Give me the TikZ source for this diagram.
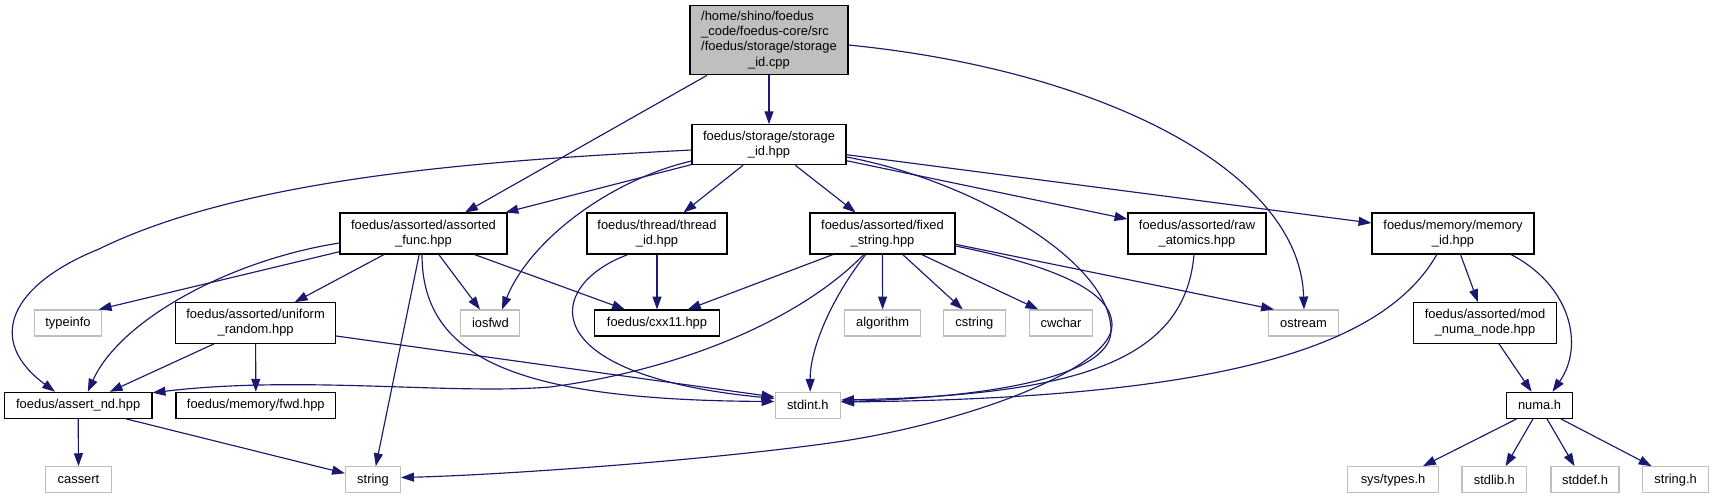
\documentclass[tikz,border=0pt]{standalone}
\usepackage{fontspec}
\setmainfont{Liberation Sans}
\usetikzlibrary{arrows.meta}
\definecolor{edgeblue}{RGB}{25,25,112}
\definecolor{sysgray}{RGB}{191,191,191}
\tikzset{
  box/.style={rectangle, inner sep=0pt, align=center, line width=1.1pt,
    font=\fontsize{12.9}{15.2}\selectfont},
  doc/.style={box, draw=black},
  sys/.style={box, draw=sysgray},
  dep/.style={draw=edgeblue, line width=1.15pt, -{Triangle[length=12.9pt,width=9pt]}},
}
\begin{document}
\begin{tikzpicture}[x=1pt,y=-1pt]
\path[use as bounding box, fill=white] (0,0) rectangle (1714,499);
% nodes
\node[doc, fill=sysgray, minimum width=158pt, minimum height=69pt] (root) at (769,40.3)
  {\begin{tabular}{@{}l@{}}/home/shino/foedus\\\_code/foedus-core/src\\/foedus/storage/storage\\\multicolumn{1}{@{}c@{}}{\_id.cpp}\end{tabular}};
\node[doc, minimum width=154pt, minimum height=40pt] (storage) at (769,144.7) {foedus/storage/storage\\\_id.hpp};
\node[doc, minimum width=167pt, minimum height=41pt] (afunc) at (423.5,233.5) {foedus/assorted/assorted\\\_func.hpp};
\node[doc, minimum width=140pt, minimum height=41pt] (thread) at (657,233.5) {foedus/thread/thread\\\_id.hpp};
\node[doc, minimum width=145pt, minimum height=41pt] (fixed) at (882.5,233.5) {foedus/assorted/fixed\\\_string.hpp};
\node[doc, minimum width=138pt, minimum height=41pt] (raw) at (1197,233.5) {foedus/assorted/raw\\\_atomics.hpp};
\node[doc, minimum width=162pt, minimum height=41pt] (memid) at (1453,233.5) {foedus/memory/memory\\\_id.hpp};
\node[sys, minimum width=67pt, minimum height=26pt] (typeinfo) at (68,323) {typeinfo};
\node[doc, minimum width=160pt, minimum height=40.6pt] (unif) at (255.6,323) {foedus/assorted/uniform\\\_random.hpp};
\node[sys, minimum width=59pt, minimum height=26pt] (iosfwd) at (490.4,323) {iosfwd};
\node[doc, minimum width=124.4pt, minimum height=26pt] (cxx) at (657,323) {foedus/cxx11.hpp};
\node[sys, minimum width=76pt, minimum height=26pt] (algo) at (882.6,323) {algorithm};
\node[sys, minimum width=62pt, minimum height=26pt] (cstring) at (974.4,323) {cstring};
\node[sys, minimum width=63pt, minimum height=26pt] (cwchar) at (1061,323) {cwchar};
\node[sys, minimum width=69.5pt, minimum height=26pt] (ostream) at (1303.5,323) {ostream};
\node[doc, minimum width=142.7pt, minimum height=40.6pt] (modnuma) at (1485,323) {foedus/assorted/mod\\\_numa\_node.hpp};
\node[doc, minimum width=147.6pt, minimum height=26pt] (assertnd) at (78.2,405.3) {foedus/assert\_nd.hpp};
\node[doc, minimum width=159.7pt, minimum height=26pt] (memfwd) at (255.8,405.3) {foedus/memory/fwd.hpp};
\node[sys, minimum width=65.5pt, minimum height=26pt] (stdint) at (807.8,405.3) {stdint.h};
\node[doc, minimum width=65.6pt, minimum height=26pt] (numa) at (1539.5,405.3) {numa.h};
\node[sys, minimum width=66pt, minimum height=26pt] (cassert) at (78.5,479.7) {cassert};
\node[sys, minimum width=55pt, minimum height=26pt] (strnode) at (373,479.7) {string};
\node[sys, minimum width=91pt, minimum height=26pt] (systypes) at (1393,479.7) {sys/types.h};
\node[sys, minimum width=64.6pt, minimum height=26pt] (stdlib) at (1494.3,479.7) {stdlib.h};
\node[sys, minimum width=68pt, minimum height=26pt] (stddef) at (1585,479.7) {stddef.h};
\node[sys, minimum width=65.6pt, minimum height=26pt] (stringh) at (1675.6,479.7) {string.h};
% edges from root
\draw[dep] (root) -- (storage);
\draw[dep] ([xshift=-62pt]root.south) -- ([xshift=41.5pt]afunc.north);
\draw[dep] ([yshift=-4.7pt]root.east) .. controls (1100,70) and (1300,170) .. ([xshift=0.5pt]ostream.north);
% edges from storage
\draw[dep] ([yshift=-5.3pt]storage.west) .. controls (500,160) and (250,175) .. (99,249)
  .. controls (10,285) and (-15,340) .. ([xshift=-23.2pt]assertnd.north);
\draw[dep] (storage) -- (afunc);
\draw[dep] ([yshift=-16.3pt]storage.west) .. controls (610,180) and (530,240) .. ([xshift=11.6pt]iosfwd.north);
\draw[dep] (storage) -- (thread);
\draw[dep] (storage) -- (fixed);
\draw[dep] (storage) -- (raw);
\draw[dep] (storage) -- (memid);
\draw[dep] ([yshift=-12.3pt]storage.east) .. controls (970,180) and (1110,260) .. (1111,330)
  .. controls (1112,365) and (1040,395) .. ([yshift=3.6pt]stdint.east);
% edges from assorted_func
\draw[dep] ([yshift=-18.2pt]afunc.west) -- ([xshift=30.7pt]typeinfo.north);
\draw[dep] ([yshift=-9.5pt]afunc.west) .. controls (230,260) and (120,320) .. ([xshift=9.6pt]assertnd.north);
\draw[dep] (afunc) -- (unif);
\draw[dep] (afunc) -- (strnode);
\draw[dep] ([xshift=-1.5pt]afunc.south) .. controls (422,360) and (520,400) .. ([yshift=3.8pt]stdint.west);
\draw[dep] ([xshift=15.3pt]afunc.south) -- ([xshift=-10.4pt]iosfwd.north);
\draw[dep] ([xshift=51pt]afunc.south) -- ([xshift=-32pt]cxx.north);
% edges from thread_id
\draw[dep] (thread) -- (cxx);
\draw[dep] ([xshift=-29pt]thread.south) .. controls (545,285) and (530,375) .. ([yshift=6.8pt]stdint.west);
% edges from fixed_string
\draw[dep] ([xshift=-49.5pt]fixed.south) -- ([xshift=30.8pt]cxx.north);
\draw[dep] ([xshift=-18.7pt]fixed.south) .. controls (800,320) and (680,370) .. (550,387)
  .. controls (450,395) and (300,375) .. ([yshift=-1pt]assertnd.north east);
\draw[dep] ([xshift=-16.8pt]fixed.south) .. controls (830,300) and (810,350) .. ([xshift=2.4pt]stdint.north);
\draw[dep] (fixed.south) -- (algo.north);
\draw[dep] ([xshift=20.2pt]fixed.south) -- ([xshift=-11.7pt]cstring.north);
\draw[dep] ([xshift=39.2pt]fixed.south) -- ([xshift=-22.7pt]cwchar.north);
\draw[dep] ([yshift=-10.8pt]fixed.east) -- ([xshift=-29.5pt]ostream.north);
\draw[dep] ([yshift=-12.5pt]fixed.east) .. controls (1050,265) and (1112,290) .. (1112,325)
  .. controls (1112,370) and (960,425) .. (830,443)
  .. controls (700,461) and (500,475) .. ([yshift=2.2pt]strnode.east);
% edges from raw_atomics and memory_id
\draw[dep] ([xshift=-3pt]raw.south) .. controls (1185,360) and (1080,395) .. ([yshift=5.3pt]stdint.east);
\draw[dep] ([xshift=-16.2pt]memid.south) .. controls (1385,345) and (1230,398) .. ([yshift=3.3pt]stdint.east);
\draw[dep] ([xshift=7.5pt]memid.south) -- ([xshift=-7pt]modnuma.north);
\draw[dep] ([xshift=58pt]memid.south) .. controls (1570,285) and (1585,345) .. ([xshift=13pt]numa.north);
\draw[dep] ([xshift=14pt]modnuma.south) -- ([xshift=-7.9pt]numa.north);
% edges from numa.h
\draw[dep] ([xshift=-22.8pt]numa.south) -- ([xshift=30pt]systypes.north);
\draw[dep] ([xshift=-6.5pt]numa.south) -- ([xshift=11.3pt]stdlib.north);
\draw[dep] ([xshift=7.5pt]numa.south) -- ([xshift=-10.5pt]stddef.north);
\draw[dep] ([xshift=21.3pt]numa.south) -- ([xshift=-24pt]stringh.north);
% edges from uniform_random
\draw[dep] ([xshift=-41.6pt]unif.south) -- ([xshift=31.5pt]assertnd.north);
\draw[dep] (unif.south) -- (memfwd.north);
\draw[dep] ([yshift=-13pt]unif.east) -- ([yshift=8.3pt]stdint.west);
% edges from assert_nd
\draw[dep] (assertnd.south) -- (cassert.north);
\draw[dep] ([xshift=47.8pt]assertnd.south) -- ([yshift=6.4pt]strnode.west);
\end{tikzpicture}
\end{document}
